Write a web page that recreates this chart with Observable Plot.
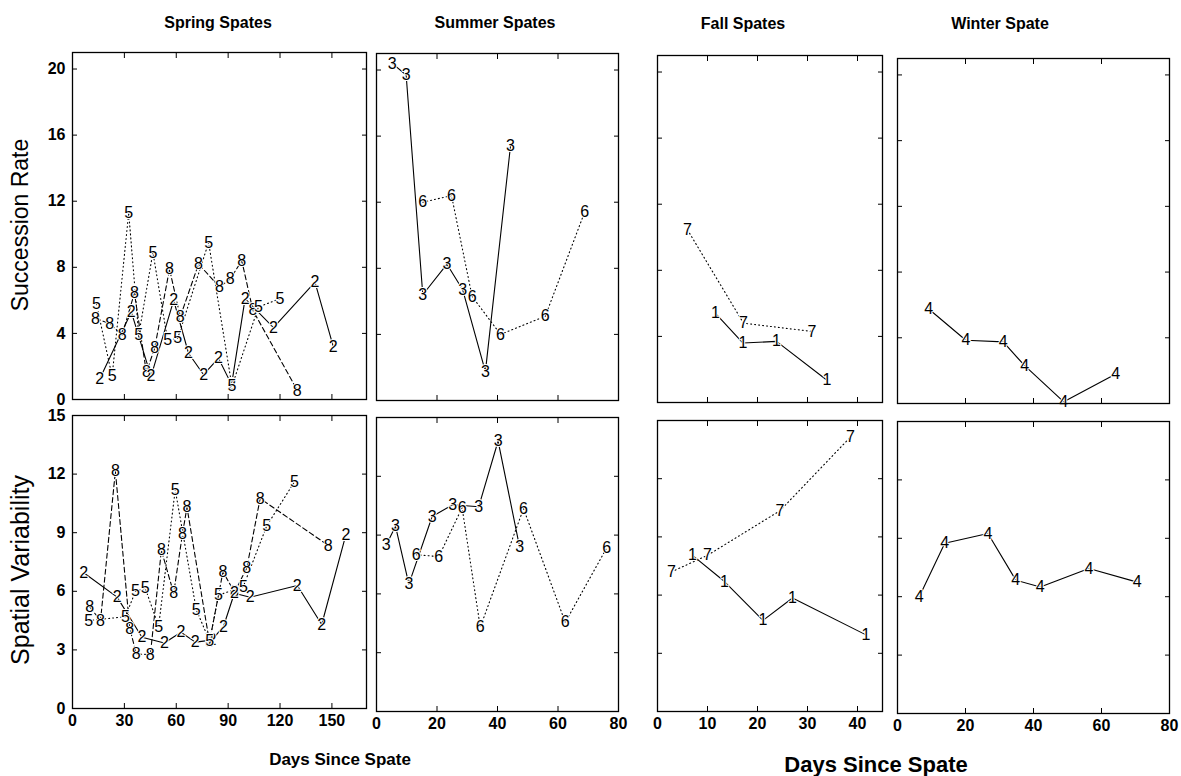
<!DOCTYPE html>
<html><head><meta charset="utf-8">
<script src="https://cdn.jsdelivr.net/npm/d3@7"></script>
<script src="https://cdn.jsdelivr.net/npm/@observablehq/plot@0.6"></script>
<style>
body{margin:0;background:#fff;}
#chart{position:relative;width:1181px;height:776px;font-family:"Liberation Sans",Arial,sans-serif;color:#000;background:#fff;overflow:hidden;}
.lbl{position:absolute;white-space:nowrap;transform:translate(-50%,-50%);}
.rot{transform:translate(-50%,-50%) rotate(-90deg);}
</style></head><body><div id="chart"></div>
<script>
// ---- data: [days since spate, value] ----
const springRate2 = [[15.8,1.25],[34,5.3],[45.4,1.4],[58.5,6.0],[67.1,2.8],[75.8,1.5],[84.4,2.5],[92,0.9],[99.8,6.1],[116.2,4.35],[140.2,7.1],[150.8,3.2]];
const springRate5 = [[13.8,5.8],[22.9,1.4],[32.5,11.3],[38.3,3.9],[46.5,8.9],[55,3.6],[60.8,3.7],[78.7,9.5],[92.2,0.8],[107.5,5.6],[120,6.1]];
const springRate8 = [[13.3,4.9],[21.5,4.6],[28.7,3.9],[35.8,6.45],[42.7,1.65],[47.5,3.1],[56.1,7.9],[62.3,5.0],[72.9,8.2],[85,6.8],[91.2,7.3],[97.9,8.4],[104.3,5.4],[130,0.55]];
const springVar2 = [[6.5,6.95],[25.8,5.7],[40.2,3.65],[53.1,3.35],[62.7,3.9],[71,3.4],[80.6,3.5],[87.3,4.2],[93.6,5.9],[102.7,5.7],[130,6.3],[144.1,4.3],[158.1,8.9]];
const springVar5 = [[9.4,4.5],[30.6,4.7],[36.4,6.0],[42.1,6.15],[49.8,4.2],[59.4,11.2],[71.6,5.05],[79.3,3.45],[84.4,5.8],[98.8,6.25],[112.3,9.35],[128.3,11.6]];
const springVar8 = [[10,5.2],[16.2,4.5],[24.8,12.15],[33.1,4.1],[36.9,2.8],[45,2.75],[51.4,8.1],[58.5,5.9],[63.6,8.95],[66.2,10.3],[79.2,3.4],[87,7.0],[93.7,5.95],[100.8,7.2],[108.5,10.75],[147.9,8.35]];
const summerRate3 = [[5.2,20.4],[9.8,19.7],[15.3,6.4],[23.3,8.25],[28.5,6.7],[36,1.75],[44.3,15.4]];
const summerRate6 = [[15.3,12.0],[24.8,12.4],[31.6,6.3],[41,4.0],[55.8,5.1],[68.8,11.4]];
const summerVar3 = [[3.2,8.5],[6.3,9.45],[10.7,6.5],[18.4,9.95],[25.2,10.55],[33.8,10.45],[40.2,13.8],[47.3,8.4]];
const summerVar6 = [[13.1,8.0],[20.6,7.9],[28.3,10.4],[34.3,4.3],[48.6,10.35],[62.4,4.55],[76.1,8.35]];
const fallRate7 = [[6.0,10.45],[17.2,4.8],[30.9,4.3]];
const fallRate1 = [[11.6,5.4],[17.1,3.6],[23.8,3.7],[33.9,1.35]];
const fallVar7 = [[2.8,7.2],[10,8.05],[24.5,10.35],[38.6,14.15]];
const fallVar1 = [[7,8.05],[13.4,6.7],[21.1,4.7],[27,5.85],[41.7,3.95]];
const winterRate4 = [[9.2,5.75],[20.1,3.85],[31.1,3.75],[37.4,2.3],[48.9,0.1],[64.2,1.8]];
const winterVar4 = [[6.4,6.0],[13.9,8.75],[26.6,9.25],[34.8,6.85],[42,6.5],[56.3,7.45],[70.5,6.75]];

const springTicks = [0,30,60,90,120,150];
const summerTicks = [0,20,40,60,80];
const fallTicks = [0,10,20,30,40];
const winterTicks = [0,20,40,60,80];
const rateTicks = [0,4,8,12,16,20];
const varTicks = [0,3,6,9,12,15];

const titles = ["Spring Spates","Summer Spates","Fall Spates","Winter Spate"];
const yTitles = ["Succession Rate","Spatial Variability"];
const xTitle = "Days Since Spate";

// ---- layout ----
const DASH = {solid:null, dashed:"5,3", dotted:"1,3"};
const panels = [
  {frame:[72,366,52,399], x:[0,170], y:[0,21], xt:springTicks, yt:rateTicks, xl:false, yl:true,
   series:[[springRate8,"8","dashed"],[springRate2,"2","solid"],[springRate5,"5","dotted"]]},
  {frame:[72,366,415,708], x:[0,170], y:[0,15], xt:springTicks, yt:varTicks, xl:true, yl:true,
   series:[[springVar8,"8","dashed"],[springVar2,"2","solid"],[springVar5,"5","dotted"]]},
  {frame:[376,618,53,400], x:[0,80], y:[0,21], xt:summerTicks, yt:rateTicks, xl:false, yl:false,
   series:[[summerRate3,"3","solid"],[summerRate6,"6","dotted"]]},
  {frame:[376,618,417,711], x:[0,80], y:[0,15], xt:summerTicks, yt:varTicks, xl:true, yl:false,
   series:[[summerVar3,"3","solid"],[summerVar6,"6","dotted"]]},
  {frame:[657,882,55,402], x:[0,45], y:[0,21], xt:fallTicks, yt:rateTicks, xl:false, yl:false,
   series:[[fallRate1,"1","solid"],[fallRate7,"7","dotted"]]},
  {frame:[657,882,420,711], x:[0,45], y:[0,15], xt:fallTicks, yt:varTicks, xl:true, yl:false,
   series:[[fallVar1,"1","solid"],[fallVar7,"7","dotted"]]},
  {frame:[897,1169,58,403], x:[0,80], y:[0,21], xt:winterTicks, yt:rateTicks, xl:false, yl:false,
   series:[[winterRate4,"4","solid"]]},
  {frame:[897,1169,421,713], x:[0,80], y:[0,15], xt:winterTicks, yt:varTicks, xl:true, yl:false,
   series:[[winterVar4,"4","solid"]]}
];

const chart = document.getElementById("chart");
const ML=45, MR=8, MT=8, MB=30;
for (const p of panels) {
  const [L,R,T,B] = p.frame;
  const marks = [
    Plot.axisX(p.xt, {anchor:"bottom", tickSize:5, dy:-5, fill:"none", label:null}),
    Plot.axisX(p.xt, {anchor:"top", tickSize:5, dy:5, fill:"none", label:null}),
    Plot.axisY(p.yt, {anchor:"left", tickSize:5, dx:5, fill:"none", label:null}),
    Plot.axisY(p.yt, {anchor:"right", tickSize:5, dx:-5, fill:"none", label:null}),
  ];
  if (p.xl) marks.push(Plot.axisX(p.xt, {anchor:"bottom", tickSize:0, tickPadding:6, stroke:"none", label:null, fontSize:16, fontWeight:"bold"}));
  if (p.yl) marks.push(Plot.axisY(p.yt, {anchor:"left", tickSize:0, tickPadding:7, stroke:"none", label:null, fontSize:16, fontWeight:"bold"}));
  for (const [data, site, style] of p.series) {
    marks.push(Plot.line(data, {x:d=>d[0], y:d=>d[1], stroke:"black", strokeWidth:1.1, strokeDasharray:DASH[style]}));
  }
  for (const [data, site, style] of p.series) {
    marks.push(Plot.text(data, {x:d=>d[0], y:d=>d[1], text:()=>site, fontSize:16, fill:"black", stroke:"white", strokeWidth:2, paintOrder:"stroke"}));
  }
  marks.push(Plot.frame({stroke:"black", strokeWidth:1.3}));
  const svg = Plot.plot({
    width:(R-L)+ML+MR, height:(B-T)+MT+MB,
    marginLeft:ML, marginRight:MR, marginTop:MT, marginBottom:MB,
    x:{domain:p.x}, y:{domain:p.y},
    style:{background:"transparent", fontFamily:"Liberation Sans, Arial, sans-serif", fontSize:"16px", color:"black", overflow:"visible"},
    marks
  });
  svg.style.position = "absolute";
  svg.style.left = (L-ML)+"px";
  svg.style.top = (T-MT)+"px";
  svg.style.maxWidth = "none";
  chart.appendChild(svg);
}

function addLabel(text, x, y, size, rot, bold) {
  const d = document.createElement("div");
  d.className = "lbl" + (rot ? " rot" : "");
  d.textContent = text;
  d.style.left = x+"px"; d.style.top = y+"px"; d.style.fontSize = size+"px";
  if (bold) d.style.fontWeight = "bold";
  chart.appendChild(d);
}
addLabel(titles[0], 218, 23, 16, false, true);
addLabel(titles[1], 495, 23, 16, false, true);
addLabel(titles[2], 743, 24, 16, false, true);
addLabel(titles[3], 1000, 24, 16, false, true);
addLabel(yTitles[0], 20, 225, 23, true);
addLabel(yTitles[1], 20, 570, 25, true);
addLabel(xTitle, 340, 760, 17, false, true);
addLabel(xTitle, 876, 765, 22, false, true);
</script></body></html>
